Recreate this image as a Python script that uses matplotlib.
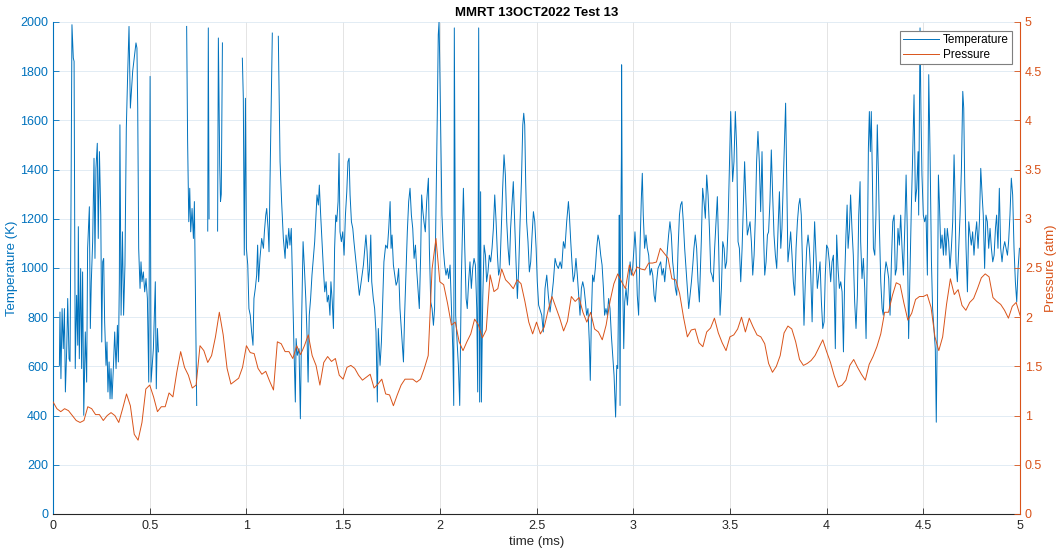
import numpy as np
import matplotlib
matplotlib.use("Agg")
import matplotlib.pyplot as plt

plt.rcParams["font.family"] = ["Liberation Sans", "DejaVu Sans"]

nan = np.nan

# temperature trace (time in ms, temperature in K); nan = no data (gaps)
time_T = [
    0.033, 0.036, 0.041, 0.047, 0.053, 0.059, 0.064, 0.071, 0.076, 0.083,
    0.088, 0.093, 0.098, 0.105, 0.109, 0.115, 0.122, 0.128, 0.131, 0.136,
    0.143, 0.148, 0.153, 0.159, 0.167, 0.174, 0.179, 0.188, 0.193, 0.198,
    0.205, 0.212, 0.217, 0.222, 0.229, 0.234, 0.240, 0.247, 0.252, 0.257,
    0.262, 0.267, 0.274, 0.279, 0.284, 0.290, 0.295, 0.300, 0.305, 0.312,
    0.319, 0.326, 0.333, 0.338, 0.343, 0.346, 0.352, 0.359, 0.365, 0.372,
    0.379, 0.386, 0.393, 0.400, 0.412, 0.429, 0.434, 0.438, 0.443, 0.450,
    0.455, 0.460, 0.467, 0.474, 0.481, 0.488, 0.495, 0.502, 0.507, 0.519,
    0.529, 0.534, 0.540, 0.545, 0.600,
    0.691, 0.696, 0.702, 0.707, 0.712, 0.719, 0.726, 0.731, 0.736, 0.743, 0.770,
    0.800, 0.803, 0.807, 0.830,
    0.851, 0.855, 0.862, 0.866, 0.870, 0.876, 0.930,
    0.979, 0.984, 0.989, 0.995, 1.000, 1.007, 1.013, 1.020, 1.027, 1.034,
    1.039, 1.046, 1.053, 1.058, 1.063, 1.070, 1.079, 1.088, 1.093, 1.100,
    1.105, 1.112, 1.117, 1.122, 1.129, 1.134, 1.150,
    1.165, 1.174, 1.182, 1.191, 1.200, 1.205, 1.212, 1.219, 1.225, 1.232,
    1.239, 1.246, 1.253, 1.257, 1.263, 1.272, 1.279, 1.286, 1.293, 1.300,
    1.307, 1.313, 1.319, 1.325, 1.332, 1.339, 1.346, 1.353, 1.360, 1.365,
    1.372, 1.377, 1.384, 1.391, 1.398, 1.405, 1.412, 1.418, 1.425, 1.432,
    1.437, 1.444, 1.450, 1.456, 1.462, 1.467, 1.474, 1.479, 1.484, 1.491,
    1.498, 1.505, 1.512, 1.519, 1.525, 1.531, 1.536, 1.543, 1.550, 1.556,
    1.563, 1.570, 1.577, 1.584, 1.591, 1.598, 1.605, 1.612, 1.618, 1.624,
    1.631, 1.637, 1.643, 1.648, 1.656, 1.663, 1.670, 1.677, 1.682, 1.691,
    1.698, 1.705, 1.711, 1.720, 1.729, 1.736, 1.743, 1.748, 1.753, 1.760,
    1.767, 1.774, 1.780, 1.787, 1.794, 1.803, 1.812, 1.818, 1.825, 1.832,
    1.839, 1.846, 1.853, 1.860, 1.867, 1.874, 1.880, 1.887, 1.894, 1.901,
    1.906, 1.911, 1.918, 1.925, 1.932, 1.941, 1.946, 1.953, 1.960, 1.967,
    1.973, 1.980, 1.987, 1.992, 1.996, 1.999, 2.005, 2.011, 2.018, 2.025,
    2.032, 2.039, 2.046, 2.053, 2.060, 2.067, 2.072, 2.075, 2.082, 2.091,
    2.096, 2.103, 2.111, 2.122, 2.129, 2.136, 2.142, 2.149, 2.156, 2.163,
    2.170, 2.177, 2.184, 2.191, 2.196, 2.201, 2.206, 2.211, 2.215, 2.222,
    2.229, 2.236, 2.242, 2.249, 2.256, 2.263, 2.270, 2.277, 2.284, 2.291,
    2.298, 2.304, 2.311, 2.318, 2.325, 2.332, 2.339, 2.346, 2.353, 2.360,
    2.366, 2.373, 2.380, 2.387, 2.394, 2.401, 2.408, 2.415, 2.422, 2.429,
    2.434, 2.439, 2.444, 2.449, 2.456, 2.463, 2.470, 2.477, 2.484, 2.491,
    2.498, 2.504, 2.511, 2.527, 2.535, 2.544, 2.553, 2.561, 2.570, 2.578,
    2.587, 2.596, 2.604, 2.613, 2.622, 2.630, 2.639, 2.647, 2.656, 2.665,
    2.670, 2.677, 2.684, 2.690, 2.697, 2.704, 2.711, 2.718, 2.725, 2.732,
    2.739, 2.746, 2.753, 2.759, 2.766, 2.773, 2.778, 2.784, 2.790, 2.797,
    2.804, 2.811, 2.818, 2.825, 2.832, 2.839, 2.846, 2.852, 2.859, 2.866,
    2.873, 2.880, 2.887, 2.894, 2.901, 2.904, 2.909, 2.915, 2.920, 2.925,
    2.928, 2.932, 2.935, 2.939, 2.940, 2.944, 2.947, 2.951, 2.956, 2.963,
    2.970, 2.977, 2.984, 2.990, 2.997, 3.004, 3.009, 3.014, 3.021, 3.028,
    3.035, 3.042, 3.047, 3.052, 3.059, 3.066, 3.073, 3.080, 3.087, 3.094,
    3.101, 3.108, 3.114, 3.121, 3.128, 3.142, 3.149, 3.156, 3.163, 3.170,
    3.177, 3.183, 3.190, 3.197, 3.204, 3.211, 3.218, 3.225, 3.232, 3.239,
    3.245, 3.252, 3.259, 3.266, 3.273, 3.280, 3.287, 3.294, 3.301, 3.308,
    3.314, 3.321, 3.328, 3.335, 3.342, 3.352, 3.359, 3.366, 3.373, 3.380,
    3.387, 3.394, 3.401, 3.407, 3.414, 3.421, 3.428, 3.435, 3.442, 3.449,
    3.456, 3.463, 3.470, 3.476, 3.483, 3.490, 3.497, 3.504, 3.509, 3.514,
    3.521, 3.528, 3.535, 3.542, 3.549, 3.556, 3.563, 3.569, 3.576, 3.583,
    3.590, 3.597, 3.604, 3.611, 3.618, 3.625, 3.632, 3.638, 3.645, 3.652,
    3.659, 3.666, 3.673, 3.680, 3.687, 3.694, 3.700, 3.707, 3.714, 3.721,
    3.728, 3.735, 3.742, 3.749, 3.756, 3.763, 3.769, 3.776, 3.783, 3.788,
    3.794, 3.800, 3.807, 3.814, 3.821, 3.828, 3.835, 3.842, 3.849, 3.856,
    3.862, 3.869, 3.876, 3.883, 3.890, 3.897, 3.904, 3.911, 3.918, 3.925,
    3.931, 3.938, 3.945, 3.952, 3.959, 3.966, 3.973, 3.980, 3.987, 3.993,
    4.000, 4.007, 4.014, 4.021, 4.028, 4.035, 4.042, 4.045, 4.052, 4.059,
    4.066, 4.073, 4.080, 4.087, 4.093, 4.100, 4.106, 4.111, 4.118, 4.124,
    4.131, 4.138, 4.145, 4.152, 4.159, 4.166, 4.173, 4.176, 4.183, 4.190,
    4.197, 4.204, 4.211, 4.216, 4.221, 4.226, 4.231, 4.237, 4.242, 4.249,
    4.255, 4.262, 4.268, 4.273, 4.280, 4.287, 4.293, 4.300, 4.307, 4.314,
    4.321, 4.328, 4.335, 4.342, 4.349, 4.355, 4.362, 4.369, 4.376, 4.383,
    4.390, 4.397, 4.404, 4.411, 4.417, 4.424, 4.431, 4.438, 4.445, 4.452,
    4.459, 4.466, 4.473, 4.476, 4.483, 4.488, 4.493, 4.500, 4.507, 4.514,
    4.521, 4.528, 4.535, 4.542, 4.548, 4.555, 4.562, 4.567, 4.573, 4.578,
    4.583, 4.590, 4.597, 4.604, 4.611, 4.617, 4.624, 4.631, 4.638, 4.645,
    4.652, 4.659, 4.664, 4.669, 4.676, 4.683, 4.690, 4.697, 4.704, 4.709,
    4.714, 4.721, 4.728, 4.735, 4.742, 4.748, 4.755, 4.762, 4.769, 4.776,
    4.783, 4.790, 4.797, 4.804, 4.810, 4.817, 4.824, 4.831, 4.838, 4.845,
    4.852, 4.859, 4.866, 4.873, 4.879, 4.886, 4.893, 4.900, 4.907, 4.914,
    4.921, 4.928, 4.935, 4.941, 4.948, 4.955, 4.962, 4.969, 4.976, 4.983,
    4.990, 4.997,
]
temp_K = [
    604, 821, 550, 835, 672, 835, 496, 672, 876, 631,
    620, 1256, 1989, 1853, 1840, 591, 889, 686, 1168, 631,
    998, 591, 984, 401, 740, 536, 1080, 1249, 754, 944,
    1107, 1446, 1039, 1405, 1507, 1120, 1473, 1215, 699, 1025,
    1039, 781, 604, 699, 496, 618, 468, 591, 468, 591,
    740, 591, 767, 618, 944, 1582, 808, 1147, 808, 1012,
    1568, 1786, 1982, 1650, 1800, 1915, 1894, 1650, 1080, 917,
    1025, 944, 984, 903, 957, 876, 536, 1779, 536, 672,
    944, 509, 754, 659, nan,
    1982, 1514, 1188, 1324, 1147, 1242, 1120, 1270, 917, 441, nan,
    1150, 1976, 1200, nan,
    1150, 1935, 1420, 1270, 1300, 1915, nan,
    1853, 1690, 1052, 1690, 1080, 1012, 835, 808, 740, 686,
    876, 917, 971, 1093, 944, 1039, 1120, 1080, 1147, 1215,
    1242, 1161, 1066, 1351, 1690, 1955, nan,
    1942, 1432, 1270, 1120, 1039, 1134, 1080, 1161, 1093, 1161,
    917, 672, 455, 713, 645, 672, 387, 808, 1107, 998,
    876, 740, 536, 808, 876, 971, 1039, 1107, 1215, 1297,
    1256, 1337, 1215, 1107, 998, 903, 944, 862, 889, 808,
    944, 862, 754, 1080, 1215, 1188, 1270, 1466, 1147, 1107,
    1147, 1052, 1215, 1310, 1432, 1446, 1297, 1188, 1161, 1107,
    1052, 998, 944, 889, 930, 971, 1012, 1080, 1134, 1066,
    944, 998, 1134, 944, 876, 835, 740, 455, 754, 604,
    699, 876, 1025, 1093, 1080, 1161, 1270, 1080, 1134, 1012,
    971, 930, 944, 998, 835, 726, 618, 808, 971, 1147,
    1270, 1324, 1215, 1161, 1039, 1093, 998, 917, 835, 1052,
    1297, 1242, 1188, 1147, 1270, 1365, 1080, 862, 835, 767,
    835, 1215, 1623, 1948, 2000, 1867, 1555, 1215, 1080, 1012,
    971, 998, 957, 1012, 835, 672, 441, 1976, 808, 672,
    604, 441, 944, 1324, 1080, 876, 835, 944, 1025, 917,
    998, 1039, 1012, 835, 496, 1976, 455, 1310, 455, 876,
    1093, 1052, 944, 984, 1052, 1025, 1080, 1161, 1297, 1188,
    1052, 971, 998, 1161, 1324, 1460, 1378, 1188, 1080, 1012,
    1161, 1256, 1351, 1188, 1025, 876, 998, 1188, 1351, 1582,
    1629, 1582, 1351, 1188, 1107, 984, 1025, 1134, 1229, 1188,
    1080, 944, 849, 808, 740, 917, 971, 889, 821, 876,
    944, 1039, 1012, 998, 1025, 998, 1107, 1080, 1188, 1270,
    1215, 1107, 1012, 944, 971, 1039, 971, 889, 808, 917,
    944, 917, 862, 808, 835, 699, 543, 808, 971, 944,
    998, 1080, 1134, 1107, 1052, 1012, 917, 808, 835, 808,
    876, 835, 726, 645, 563, 496, 394, 604, 591, 944,
    1215, 441, 1080, 1460, 1826, 1080, 876, 672, 862, 917,
    849, 944, 1025, 971, 998, 1080, 1147, 1080, 889, 808,
    1080, 1283, 1385, 1215, 1080, 1134, 1080, 1052, 971, 998,
    971, 889, 862, 944, 998, 1025, 971, 998, 944, 1012,
    1080, 1134, 1188, 1134, 1025, 971, 917, 889, 1080, 1215,
    1256, 1270, 1188, 1080, 998, 917, 835, 889, 944, 1012,
    1080, 1134, 1080, 944, 862, 1107, 1324, 1270, 1202, 1378,
    1297, 1161, 984, 971, 944, 1080, 1188, 1290, 1080, 808,
    917, 1107, 1080, 998, 1025, 1161, 1405, 1636, 1487, 1351,
    1432, 1636, 1487, 1107, 1080, 944, 1080, 1242, 1432, 1270,
    1134, 1161, 1188, 1107, 971, 1052, 1215, 1432, 1555, 1432,
    1229, 1473, 1161, 971, 1025, 1134, 1147, 1270, 1480, 1297,
    1134, 1052, 998, 1161, 1310, 1080, 1161, 1351, 1555, 1670,
    1351, 1025, 1080, 1147, 1052, 944, 889, 1080, 1188, 1256,
    1283, 1215, 998, 767, 944, 1080, 1134, 1080, 971, 781,
    998, 1188, 1052, 917, 971, 1025, 862, 754, 781, 971,
    1093, 1080, 1025, 944, 1025, 1052, 808, 672, 1134, 998,
    917, 944, 903, 659, 944, 1134, 1256, 1080, 1161, 1297,
    1161, 1052, 862, 754, 889, 1215, 1351, 1107, 957, 1039,
    917, 713, 1080, 1487, 1636, 1473, 1636, 1351, 1080, 1052,
    1215, 1582, 1378, 1161, 944, 835, 808, 971, 1025, 998,
    957, 808, 1025, 1188, 1215, 971, 998, 1161, 1093, 1215,
    1080, 971, 1161, 1378, 1161, 713, 971, 1242, 1460, 1704,
    1270, 1324, 1473, 1215, 1976, 1623, 1378, 1215, 1188, 1215,
    971, 1786, 1460, 1025, 835, 754, 672, 373, 808, 1378,
    1270, 1080, 1134, 1052, 1161, 1052, 1161, 1107, 998, 1080,
    1188, 1460, 1297, 1025, 944, 1080, 1215, 1405, 1718, 1650,
    1351, 1080, 903, 1188, 1134, 1093, 1147, 1052, 1134, 1188,
    1080, 1188, 1405, 1297, 1215, 998, 1215, 1188, 1080, 1161,
    1080, 1025, 1052, 1161, 1215, 1080, 1324, 1080, 1025, 1080,
    1107, 1080, 1052, 1107, 1215, 1365, 1297, 1080, 944, 862,
    998, 1080,
]

# pressure trace, sampled every 0.02 ms from 0 to 5 ms (atm)
pres_atm = [
    1.14, 1.07, 1.04, 1.07, 1.05, 1.00, 0.95, 0.93, 0.95, 1.09,
    1.07, 1.01, 1.01, 0.95, 1.00, 1.03, 1.00, 0.93, 1.07, 1.22,
    1.10, 0.81, 0.75, 0.93, 1.27, 1.31, 1.19, 1.04, 1.09, 1.09,
    1.23, 1.19, 1.44, 1.65, 1.49, 1.41, 1.28, 1.31, 1.71, 1.66,
    1.54, 1.61, 1.80, 2.05, 1.82, 1.48, 1.32, 1.35, 1.38, 1.49,
    1.71, 1.64, 1.63, 1.48, 1.42, 1.45, 1.35, 1.26, 1.75, 1.73,
    1.65, 1.65, 1.58, 1.71, 1.62, 1.71, 1.82, 1.61, 1.51, 1.31,
    1.54, 1.60, 1.55, 1.58, 1.41, 1.37, 1.49, 1.51, 1.48, 1.41,
    1.36, 1.39, 1.42, 1.28, 1.32, 1.37, 1.22, 1.21, 1.10, 1.21,
    1.31, 1.37, 1.37, 1.37, 1.34, 1.37, 1.48, 1.61, 2.49, 2.80,
    2.36, 2.33, 2.14, 1.92, 1.95, 1.75, 1.66, 1.75, 1.83, 1.98,
    1.92, 1.79, 1.87, 2.43, 2.26, 2.29, 2.49, 2.38, 2.34, 2.29,
    2.38, 2.34, 2.16, 1.95, 1.83, 1.95, 1.83, 1.90, 2.07, 2.21,
    2.10, 1.99, 1.86, 1.96, 2.21, 2.16, 2.20, 2.05, 1.95, 2.05,
    1.88, 1.85, 1.77, 1.92, 2.16, 2.34, 2.44, 2.36, 2.29, 2.53,
    2.42, 2.51, 2.49, 2.48, 2.55, 2.55, 2.56, 2.70, 2.65, 2.60,
    2.39, 2.38, 2.24, 2.00, 1.80, 1.87, 1.88, 1.74, 1.70, 1.85,
    1.89, 1.99, 1.84, 1.74, 1.66, 1.80, 1.82, 1.88, 2.00, 1.85,
    1.99, 1.90, 1.82, 1.80, 1.73, 1.53, 1.44, 1.50, 1.61, 1.84,
    1.91, 1.88, 1.75, 1.57, 1.51, 1.53, 1.56, 1.61, 1.69, 1.77,
    1.65, 1.54, 1.40, 1.29, 1.31, 1.36, 1.51, 1.57, 1.49, 1.42,
    1.36, 1.52, 1.60, 1.70, 1.83, 2.05, 2.05, 2.22, 2.35, 2.33,
    2.14, 1.97, 2.04, 2.18, 2.21, 2.21, 2.23, 2.10, 1.80, 1.66,
    1.80, 2.13, 2.39, 2.23, 2.28, 2.12, 2.07, 2.15, 2.19, 2.29,
    2.40, 2.44, 2.41, 2.20, 2.16, 2.13, 2.07, 1.99, 2.11, 2.15,
    2.02,
]
time_P = np.linspace(0, 5, len(pres_atm))

x_ticks = [0, 0.5, 1, 1.5, 2, 2.5, 3, 3.5, 4, 4.5, 5]
x_ticklabels = ["0", "0.5", "1", "1.5", "2", "2.5", "3", "3.5", "4", "4.5", "5"]
T_ticks = list(range(0, 2001, 200))
P_ticks = [0, 0.5, 1, 1.5, 2, 2.5, 3, 3.5, 4, 4.5, 5]
P_ticklabels = ["0", "0.5", "1", "1.5", "2", "2.5", "3", "3.5", "4", "4.5", "5"]

blue = "#0072BD"
orange = "#D95319"
dark = "#262626"

fig = plt.figure(figsize=(10.58, 5.5), dpi=100)
ax = fig.add_axes([0.0501, 0.0655, 0.9140, 0.8945])
ax2 = ax.twinx()

l1, = ax.plot(time_T, temp_K, color=blue, linewidth=0.7)
l2, = ax2.plot(time_P, pres_atm, color=orange, linewidth=0.7)

ax.set_xlim(0, 5)
ax.set_ylim(0, 2000)
ax2.set_ylim(0, 5)
ax.set_xticks(x_ticks)
ax.set_xticklabels(x_ticklabels)
ax.set_yticks(T_ticks)
ax2.set_yticks(P_ticks)
ax2.set_yticklabels(P_ticklabels)

# grid like matlab: light, behind the data
ax.set_axisbelow(True)
ax.xaxis.grid(True, color="#dfdfdf", linewidth=0.6)
ax.yaxis.grid(True, color="#dde9f3", linewidth=0.6)

for a in (ax, ax2):
    a.spines["top"].set_visible(False)
    a.tick_params(direction="in", length=4, width=0.6, labelsize=9)
ax.spines["left"].set_color(blue)
ax.spines["bottom"].set_color(dark)
ax.spines["right"].set_visible(False)
ax2.spines["left"].set_visible(False)
ax2.spines["bottom"].set_visible(False)
ax2.spines["right"].set_color(orange)
ax.tick_params(axis="y", colors=blue)
ax.tick_params(axis="x", colors=dark, pad=4)
ax2.tick_params(axis="y", colors=orange)

ax.set_xlabel("time (ms)", color=dark, fontsize=9.5)
ax.xaxis.set_label_coords(0.5, -0.045)
ax.set_ylabel("Temperature (K)", color=blue, fontsize=9.5)
ax.yaxis.set_label_coords(-0.036, 0.5)
ax2.set_ylabel("Pressure (atm)", color=orange, fontsize=9.5)
ax2.yaxis.set_label_coords(1.026, 0.5)
ax.set_title("MMRT 13OCT2022 Test 13", fontsize=9.5, fontweight="bold", pad=4, color="black")

leg = ax2.legend([l1, l2], ["Temperature", "Pressure"], loc="upper right",
                 bbox_to_anchor=(0.9945, 0.987), fontsize=8.5, fancybox=False,
                 framealpha=1, edgecolor="#7f7f7f", handlelength=3.0,
                 borderpad=0.3, labelspacing=0.2, handletextpad=0.35,
                 borderaxespad=0.2)
leg.get_frame().set_linewidth(0.8)

fig.savefig("out.png", dpi=100, facecolor="white")
